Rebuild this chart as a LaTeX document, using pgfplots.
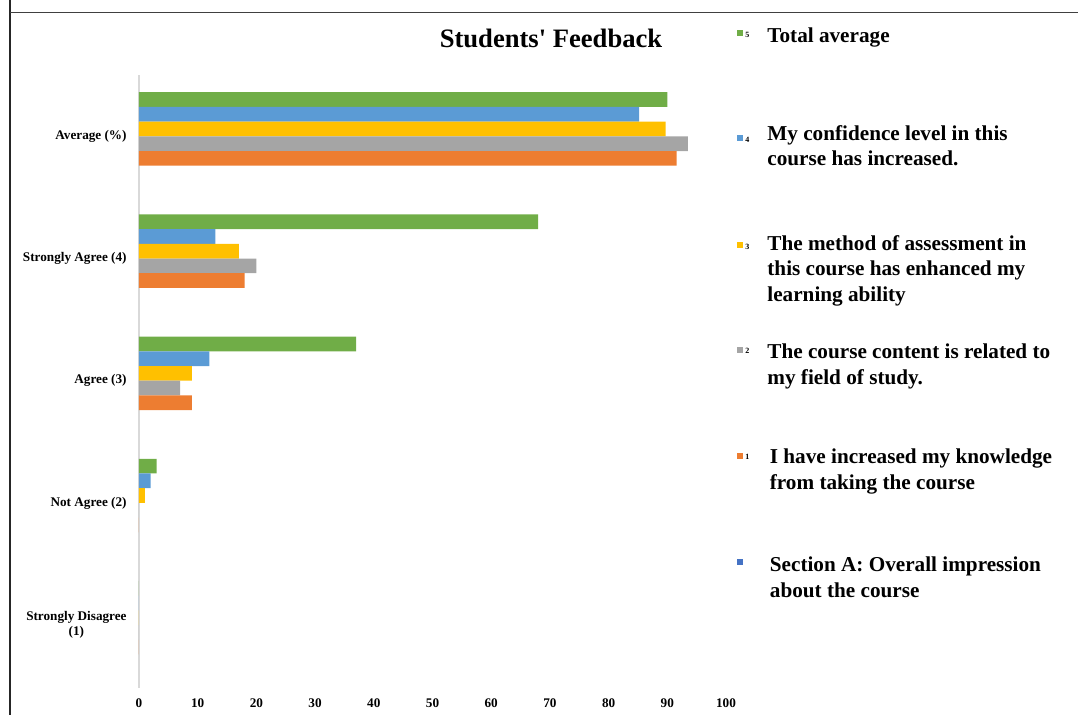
\documentclass[border=0pt]{standalone}
\usepackage{pgfplots}
\pgfplotsset{compat=1.18}
\usepackage{fontspec}
\setmainfont{Liberation Serif}
\definecolor{cgreen}{HTML}{70AD47}
\definecolor{cblue}{HTML}{5B9BD5}
\definecolor{cyellow}{HTML}{FFC000}
\definecolor{cgray}{HTML}{A5A5A5}
\definecolor{corange}{HTML}{ED7D31}
\definecolor{cdblue}{HTML}{4472C4}
\newcommand\lf{\fontsize{10.6pt}{12.9pt}\selectfont\bfseries}
\newcommand\nf{\fontsize{4pt}{5pt}\selectfont\bfseries}
\begin{document}
\begin{tikzpicture}[x=0.5pt,y=-0.5pt]
\useasboundingbox (0,0) rectangle (1078,715);
\draw[line width=0.75pt, black!85] (10,0) -- (10,715);
\draw[line width=0.75pt, black!75] (10,12.3) -- (1078,12.3);
\begin{axis}[
  at={(69.5pt,-37.5pt)}, anchor=north west,
  scale only axis, width=293.5pt, height=306.5pt,
  xmin=0, xmax=100, ymin=-0.575, ymax=4.442,
  xbar, bar width=7.35pt,
  axis lines*=left,
  x axis line style={draw=none},
  y axis line style={draw=black!15, line width=0.75pt},
  major tick length=0pt,
  xtick={0,10,...,100},
  ytick={0,1,2,3,4},
  yticklabels={{Strongly Disagree\\(1)},{Not Agree (2)},{Agree (3)},{Strongly Agree (4)},{Average (\%)}},
  /pgf/number format/assume math mode=true,
  xticklabel style={font=\fontsize{6.6pt}{8pt}\selectfont\bfseries, anchor=center, yshift=-7.5pt, inner sep=0pt},
  yticklabel style={font=\fontsize{6.6pt}{7.6pt}\selectfont\bfseries, align=center, anchor=east, inner sep=0pt, xshift=-6pt, yshift=-3.7pt},
  every axis plot/.append style={draw=none},
  clip=false,
]
\addplot[fill=cgreen, bar shift=14.7pt] coordinates {(0,0) (3,1) (37,2) (68,3) (90,4)};
\addplot[fill=cblue, bar shift=7.35pt] coordinates {(0,0) (2,1) (12,2) (13,3) (85.2,4)};
\addplot[fill=cyellow, bar shift=0pt] coordinates {(0,0) (1,1) (9,2) (17,3) (89.7,4)};
\addplot[fill=cgray, bar shift=-7.35pt] coordinates {(0,0) (0,1) (7,2) (20,3) (93.5,4)};
\addplot[fill=corange, bar shift=-14.7pt] coordinates {(0,0) (0,1) (9,2) (18,3) (91.6,4)};
\end{axis}
\node[anchor=base, font=\fontsize{13.3pt}{16pt}\selectfont\bfseries, inner sep=0pt] at (551,48) {Students\textquotesingle{} Feedback};
% legend
\fill[cgreen] (736.5,30.5) rectangle +(6,6);
\node[anchor=west, inner sep=0pt, font=\nf] at (745,35) {5};
\node[anchor=base west, inner sep=0pt, font=\lf] at (767,43) {Total average};
\fill[cblue] (736.5,135) rectangle +(6,6);
\node[anchor=west, inner sep=0pt, font=\nf] at (745,139.5) {4};
\node[anchor=base west, inner sep=0pt, font=\lf] at (767,140.5) {My confidence level in this};
\node[anchor=base west, inner sep=0pt, font=\lf] at (767,166) {course has increased.};
\fill[cyellow] (736.5,242.5) rectangle +(6,6);
\node[anchor=west, inner sep=0pt, font=\nf] at (745,247) {3};
\node[anchor=base west, inner sep=0pt, font=\lf] at (767,250.5) {The method of assessment in};
\node[anchor=base west, inner sep=0pt, font=\lf] at (767,276) {this course has enhanced my};
\node[anchor=base west, inner sep=0pt, font=\lf] at (767,301.5) {learning ability};
\fill[cgray] (736.5,347.5) rectangle +(6,6);
\node[anchor=west, inner sep=0pt, font=\nf] at (745,351) {2};
\node[anchor=base west, inner sep=0pt, font=\lf] at (767,359) {The course content is related to};
\node[anchor=base west, inner sep=0pt, font=\lf] at (767,384.5) {my field of study.};
\fill[corange] (736.5,453) rectangle +(6,6);
\node[anchor=west, inner sep=0pt, font=\nf] at (745,457) {1};
\node[anchor=base west, inner sep=0pt, font=\lf] at (769.5,464) {I have increased my knowledge};
\node[anchor=base west, inner sep=0pt, font=\lf] at (769.5,489.5) {from taking the course};
\fill[cdblue] (736.5,559) rectangle +(6,6);
\node[anchor=base west, inner sep=0pt, font=\lf] at (769.5,572) {Section A: Overall impression};
\node[anchor=base west, inner sep=0pt, font=\lf] at (769.5,597.5) {about the course};
\end{tikzpicture}
\end{document}
